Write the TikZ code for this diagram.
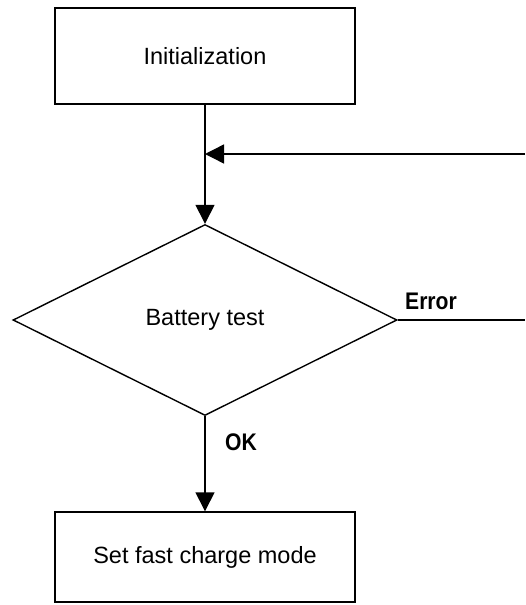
\documentclass[tikz,border=0pt]{standalone}
\usepackage{fontspec}
\setmainfont{Liberation Sans}
\usepackage{graphicx}
\usetikzlibrary{shapes.geometric,arrows.meta}
\begin{document}
\begin{tikzpicture}[x=1pt,y=-1pt,
  line width=1.4pt,
  procbox/.style={draw, rectangle, minimum width=300pt, inner sep=0pt, font=\fontsize{23.5}{28}\selectfont},
  decision/.style={draw, diamond, minimum width=384pt, minimum height=191pt, inner sep=0pt, font=\fontsize{23.5}{28}\selectfont},
  lbl/.style={inner sep=0pt, font=\fontsize{24}{28}\selectfont\bfseries},
  arr/.style={-{Triangle[length=19pt,width=19pt]}}]
\useasboundingbox (0,0) rectangle (525,605);
\node[procbox, minimum height=96pt] (init) at (205,56) {Initialization};
\node[decision] (test) at (205,320) {Battery test};
\node[procbox, minimum height=90pt] (fast) at (205,557) {Set fast charge mode};
\coordinate (ret) at (525,154);
\coordinate (join) at (205,154);
\coordinate (err) at (525,320);
\draw[arr] (init.south) -- (test.north);
\draw[arr] (ret) -- (join);
\draw (test.east) -- (err);
\draw[arr] (test.south) -- (fast.north);
\node[lbl] (elbl) at (431,301) {\scalebox{0.88}[1]{Error}};
\node[lbl] (oklbl) at (241,442) {\scalebox{0.88}[1]{OK}};
\end{tikzpicture}
\end{document}
